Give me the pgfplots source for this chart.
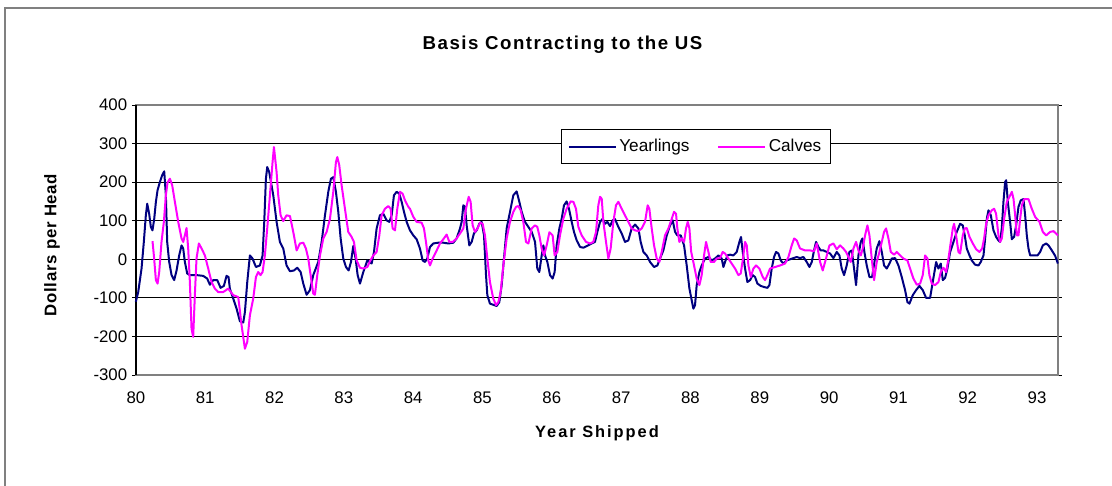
\documentclass[border=0pt]{standalone}
\usepackage{fontspec}
\setmainfont{Liberation Sans}
\newfontfamily\spacedfont[LetterSpace=12]{Liberation Sans}
\newfontfamily\titlefont[LetterSpace=8]{Liberation Sans}
\newfontfamily\ylabfont[LetterSpace=4]{Liberation Sans}
\usepackage{pgfplots}
\pgfplotsset{compat=1.18}
\usepackage{pgfplotstable}
\definecolor{yearl}{HTML}{000080}
\definecolor{calf}{HTML}{FF00FF}
\definecolor{framegray}{HTML}{808080}

\pgfplotstableread{
yr val
80.000 -110
80.034 -85
80.082 -24
80.115 45
80.144 114
80.164 144
80.192 118
80.216 84
80.240 75
80.265 105
80.289 149
80.313 179
80.346 200
80.380 218
80.409 228
80.433 166
80.452 45
80.481 -7
80.515 -41
80.553 -54
80.587 -29
80.625 10
80.659 36
80.683 28
80.707 -7
80.741 -37
80.779 -41
80.875 -41
80.972 -43
81.029 -50
81.068 -66
81.116 -54
81.174 -54
81.222 -74
81.270 -69
81.308 -43
81.337 -46
81.356 -76
81.405 -102
81.453 -128
81.501 -161
81.549 -164
81.573 -137
81.607 -59
81.645 10
81.683 2
81.732 -20
81.789 -16
81.828 10
81.852 97
81.876 209
81.895 239
81.924 226
81.982 166
82.030 97
82.078 45
82.126 28
82.174 -16
82.223 -31
82.280 -29
82.328 -22
82.377 -33
82.415 -63
82.463 -92
82.511 -80
82.559 -41
82.631 -7
82.680 45
82.728 114
82.776 175
82.814 209
82.848 213
82.886 175
82.920 123
82.954 54
82.992 2
83.031 -20
83.069 -29
83.103 -7
83.137 35
83.170 2
83.199 -41
83.233 -63
83.281 -33
83.339 -3
83.401 -11
83.435 19
83.473 80
83.521 114
83.569 118
83.617 101
83.656 97
83.690 114
83.723 166
83.762 175
83.800 170
83.834 149
83.868 123
83.906 97
83.954 75
84.002 62
84.050 52
84.098 28
84.137 -3
84.170 -7
84.204 2
84.243 32
84.291 41
84.363 43
84.435 43
84.507 41
84.579 43
84.627 54
84.676 80
84.700 97
84.724 140
84.748 136
84.772 88
84.810 36
84.844 45
84.877 67
84.916 75
84.954 92
84.988 97
85.022 62
85.051 -41
85.070 -93
85.108 -115
85.156 -118
85.205 -121
85.243 -111
85.277 -67
85.310 2
85.349 80
85.397 123
85.445 166
85.493 176
85.532 149
85.565 123
85.613 97
85.662 84
85.710 71
85.758 45
85.791 -24
85.820 -33
85.854 10
85.878 36
85.902 10
85.936 -7
85.974 -41
86.012 -50
86.041 -33
86.070 36
86.109 80
86.142 105
86.176 140
86.214 150
86.248 131
86.287 97
86.320 71
86.359 49
86.407 32
86.455 30
86.513 35
86.575 41
86.623 45
86.657 71
86.696 97
86.734 105
86.768 92
86.801 97
86.840 86
86.878 101
86.912 104
86.960 84
87.008 67
87.056 45
87.104 49
87.152 80
87.201 90
87.249 80
87.282 45
87.321 19
87.369 10
87.417 -7
87.475 -20
87.523 -16
87.561 2
87.609 23
87.658 62
87.706 88
87.744 101
87.778 71
87.811 62
87.860 62
87.908 36
87.946 -16
87.985 -76
88.042 -128
88.066 -119
88.090 -67
88.129 -33
88.162 -16
88.210 2
88.259 6
88.307 -3
88.355 2
88.403 10
88.451 2
88.475 -20
88.499 -7
88.533 10
88.571 12
88.619 10
88.667 19
88.706 45
88.730 58
88.754 19
88.788 -24
88.821 -59
88.860 -54
88.898 -41
88.932 -46
88.966 -63
89.014 -69
89.062 -72
89.110 -74
89.139 -67
89.172 -24
89.206 6
89.235 19
89.269 15
89.302 -3
89.341 -11
89.389 -3
89.437 0
89.485 3
89.533 6
89.581 3
89.629 6
89.677 -7
89.716 -20
89.750 -7
89.783 23
89.812 45
89.846 32
89.879 23
89.918 23
89.966 19
90.014 15
90.062 3
90.110 19
90.149 10
90.182 -24
90.216 -41
90.254 -16
90.293 19
90.327 23
90.360 -24
90.389 -67
90.423 10
90.457 45
90.481 54
90.509 19
90.543 -16
90.582 -46
90.620 -46
90.654 -7
90.687 28
90.726 47
90.760 19
90.793 -16
90.832 -24
90.870 -11
90.904 2
90.952 3
91.000 -16
91.048 -46
91.096 -80
91.130 -111
91.159 -115
91.207 -93
91.255 -80
91.303 -69
91.351 -80
91.399 -100
91.457 -100
91.495 -59
91.544 -7
91.577 -24
91.611 -11
91.640 -54
91.673 -48
91.707 -24
91.746 19
91.794 45
91.842 71
91.890 92
91.928 88
91.957 62
91.986 28
92.025 10
92.058 -3
92.106 -14
92.155 -16
92.188 -7
92.227 10
92.251 54
92.275 105
92.299 127
92.333 114
92.371 75
92.409 58
92.443 49
92.467 45
92.491 80
92.515 149
92.539 200
92.554 205
92.578 149
92.611 97
92.636 52
92.669 58
92.698 88
92.732 136
92.765 153
92.804 156
92.828 114
92.852 62
92.876 28
92.900 10
92.948 10
93.006 10
93.044 19
93.083 36
93.131 41
93.165 36
93.213 23
93.261 9
93.300 -11
}\yearlings

\pgfplotstableread{
yr val
80.240 47
80.260 10
80.289 -54
80.313 -63
80.337 -33
80.370 45
80.404 97
80.433 166
80.457 199
80.491 209
80.524 192
80.563 149
80.611 97
80.659 54
80.683 45
80.707 62
80.731 81
80.755 28
80.779 -59
80.803 -180
80.827 -201
80.851 -93
80.875 2
80.909 41
80.948 28
80.996 10
81.044 -24
81.092 -59
81.140 -76
81.188 -85
81.260 -85
81.332 -76
81.405 -93
81.477 -98
81.525 -171
81.573 -232
81.607 -214
81.645 -145
81.693 -102
81.732 -46
81.765 -33
81.799 -41
81.828 -33
81.861 10
81.895 80
81.934 166
81.972 252
81.992 291
82.030 226
82.054 166
82.088 114
82.126 99
82.174 114
82.223 112
82.251 88
82.280 62
82.319 23
82.367 41
82.415 43
82.453 28
82.487 2
82.521 -41
82.559 -89
82.583 -92
82.617 -41
82.656 10
82.704 54
82.752 71
82.800 105
82.848 175
82.886 252
82.906 265
82.934 244
82.968 192
83.016 131
83.064 71
83.112 58
83.146 45
83.185 -3
83.233 -22
83.281 -24
83.339 -20
83.377 -5
83.425 10
83.473 19
83.512 62
83.545 114
83.593 131
83.642 138
83.675 131
83.704 80
83.738 75
83.771 131
83.810 175
83.848 170
83.882 153
83.930 136
83.954 131
84.002 110
84.050 97
84.122 95
84.156 80
84.185 45
84.219 -3
84.243 -16
84.281 2
84.329 19
84.387 41
84.435 52
84.483 64
84.522 45
84.570 45
84.627 54
84.676 67
84.724 80
84.762 131
84.801 162
84.829 149
84.858 88
84.892 71
84.930 80
84.964 95
85.003 92
85.036 62
85.070 2
85.108 -59
85.156 -102
85.195 -119
85.229 -111
85.262 -85
85.301 -16
85.349 54
85.397 97
85.445 123
85.484 136
85.517 138
85.551 127
85.589 97
85.628 45
85.662 41
85.710 80
85.758 88
85.791 84
85.820 62
85.854 28
85.888 10
85.926 36
85.965 70
86.012 62
86.041 10
86.080 19
86.118 62
86.166 105
86.214 131
86.272 150
86.311 149
86.349 131
86.383 84
86.431 62
86.494 45
86.551 41
86.599 45
86.638 71
86.671 140
86.696 162
86.720 157
86.744 97
86.782 45
86.816 2
86.849 28
86.888 97
86.926 140
86.960 149
87.008 131
87.056 114
87.104 97
87.152 80
87.201 75
87.249 73
87.297 80
87.345 97
87.383 140
87.407 131
87.441 80
87.475 36
87.513 2
87.552 -7
87.585 19
87.633 62
87.682 80
87.730 105
87.763 123
87.792 118
87.811 80
87.840 45
87.874 54
87.908 45
87.936 80
87.961 97
87.985 80
88.010 20
88.052 -16
88.090 -50
88.129 -67
88.162 -41
88.196 10
88.225 45
88.259 19
88.292 -7
88.340 -7
88.379 2
88.427 3
88.465 19
88.499 15
88.547 2
88.595 -11
88.643 -24
88.692 -41
88.725 -37
88.754 -3
88.788 45
88.812 36
88.836 -16
88.870 -46
88.908 -24
88.946 -16
88.994 -24
89.043 -46
89.076 -54
89.110 -41
89.148 -24
89.221 -20
89.293 -16
89.365 -11
89.413 6
89.461 36
89.495 54
89.533 49
89.581 28
89.653 23
89.726 23
89.783 21
89.822 41
89.870 -7
89.908 -29
89.956 2
90.005 36
90.062 41
90.110 26
90.158 36
90.206 28
90.245 19
90.279 6
90.312 -7
90.351 28
90.389 45
90.423 23
90.457 10
90.485 28
90.519 62
90.553 88
90.582 62
90.615 2
90.649 -54
90.687 -7
90.726 19
90.760 45
90.793 71
90.822 80
90.856 54
90.890 19
90.938 12
90.976 19
91.024 10
91.072 2
91.130 -3
91.168 -24
91.216 -50
91.265 -66
91.313 -63
91.351 -41
91.385 10
91.419 2
91.447 -41
91.481 -63
91.529 -67
91.577 -59
91.611 -33
91.650 -22
91.688 -33
91.722 2
91.756 45
91.784 80
91.803 92
91.832 62
91.866 19
91.890 15
91.928 62
91.957 80
91.986 81
92.025 58
92.073 41
92.121 26
92.169 19
92.208 28
92.236 54
92.265 92
92.299 114
92.347 127
92.381 131
92.409 118
92.443 62
92.467 45
92.491 54
92.525 105
92.564 149
92.612 166
92.636 175
92.660 157
92.684 114
92.708 62
92.732 62
92.756 105
92.780 140
92.814 156
92.876 156
92.924 131
92.972 110
93.035 97
93.083 71
93.131 62
93.189 71
93.237 73
93.300 62
}\calves

\begin{document}
\begin{tikzpicture}
\useasboundingbox (0,0) rectangle (834pt,363.75pt);
\draw[framegray, line width=1.5pt] (3.75pt,-10pt) -- (3.75pt,357.75pt) -- (850pt,357.75pt);
\begin{axis}[
  at={(102pt,82.5pt)}, anchor=south west,
  scale only axis, width=691.5pt, height=202.5pt,
  xmin=80, xmax=93.3, ymin=-300, ymax=400,
  xtick={80,81,...,93}, ytick={-300,-200,...,400},
  x tick style={draw=none},
  y tick style={black, line width=0.75pt},
  tick align=outside, major tick length=3pt,
  ymajorgrids, grid style={black, line width=0.6pt},
  axis line style={framegray, line width=1.5pt},
  ticklabel style={font=\fontsize{12.6}{15}\selectfont},
  /pgf/number format/assume math mode=true,
  xticklabel style={yshift=-6pt},
  clip=false,
  legend style={at={(0.461,0.911)}, anchor=north west, draw=black, line width=0.6pt,
    fill=white, font=\fontsize{12.9}{15}\selectfont, inner xsep=5pt, inner ysep=5.5pt,
    /tikz/every even column/.append style={column sep=19pt}},
  legend columns=2,
  legend image code/.code={\draw[#1, line width=1.5pt] (0pt,0pt) -- (35pt,0pt);},
]
\pgfplotsinvokeforeach{80,81,...,93}{\draw[black!75, line width=0.75pt] (axis cs:#1,0) ++(0,-3pt) -- ++(0,6pt);}
\draw[black, line width=1pt] (rel axis cs:0,0) -- (rel axis cs:0,1);
\addplot[yearl, line width=1.5pt, no markers, line join=round] table[x=yr, y=val]{\yearlings};
\addlegendentry{Yearlings}
\addplot[calf, line width=1.5pt, no markers, line join=round] table[x=yr, y=val]{\calves};
\addlegendentry{Calves}
\end{axis}
\node[font=\titlefont\bfseries\fontsize{14}{16}\selectfont] at (421.9pt,330pt) {Basis Contracting to the US};
\node[font=\spacedfont\bfseries\fontsize{12.3}{14}\selectfont] at (447.75pt,39pt) {Year Shipped};
\node[font=\ylabfont\bfseries\fontsize{12.6}{14}\selectfont, rotate=90] at (39pt,180pt) {Dollars per Head};
\end{tikzpicture}
\end{document}
